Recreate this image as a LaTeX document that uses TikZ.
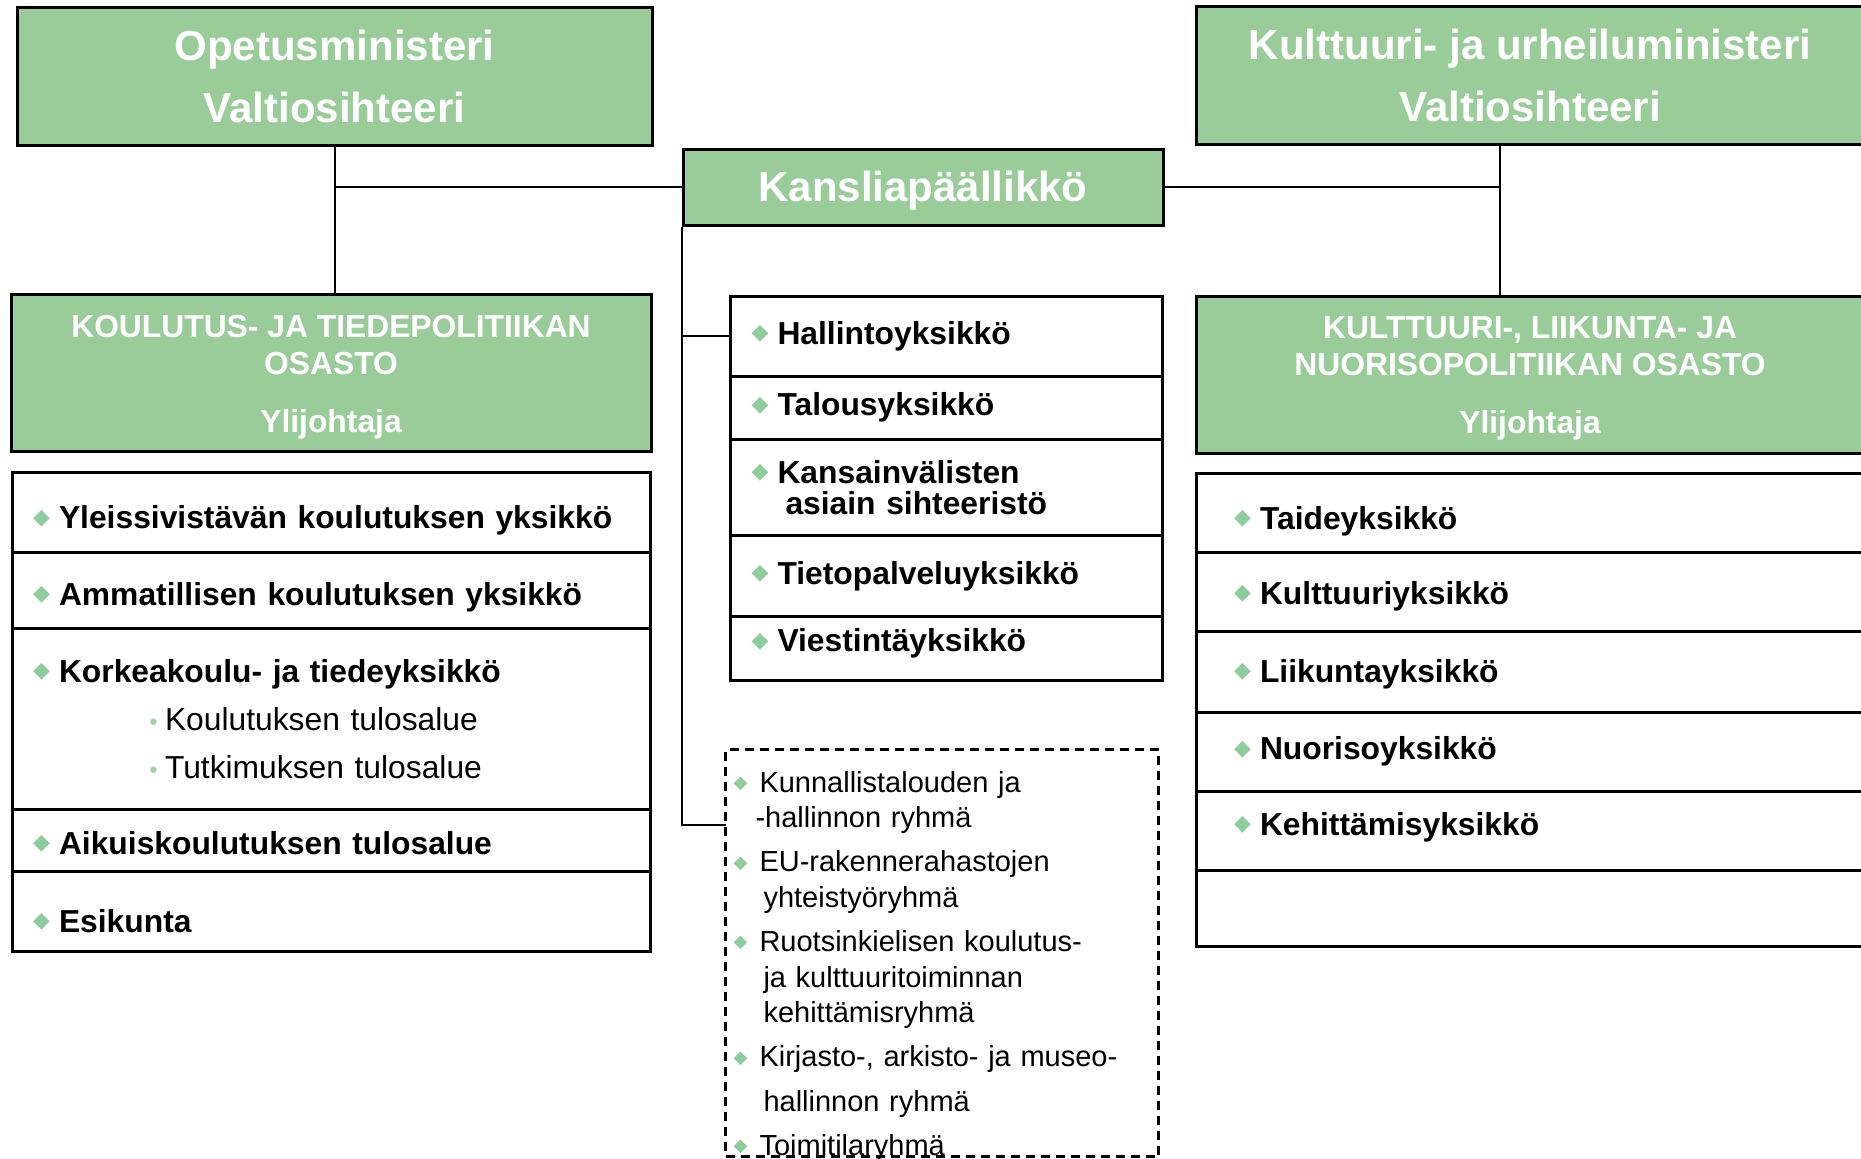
\documentclass[tikz,border=0pt]{standalone}
\usepackage{fontspec}
\setmainfont{Liberation Sans}
\newfontfamily\symfont{DejaVu Sans}
\usetikzlibrary{positioning}

\definecolor{boxgreen}{RGB}{153,204,153}
\definecolor{bulgreen}{RGB}{143,204,155}
\definecolor{dotgreen}{RGB}{160,210,165}

\newcommand{\bul}[2][11]{\makebox[13pt][l]{\raisebox{#2}{\symfont\fontsize{#1}{#1}\selectfont\color{bulgreen}◆}}}
\newcommand{\subbul}{\makebox[9pt][l]{\symfont\fontsize{11}{11}\selectfont\color{dotgreen}•}}

\tikzset{
	greenbox/.style={draw, fill=boxgreen, line width=1.5pt, text=white, align=center, inner sep=0pt},
	chief/.style={greenbox, font=\fontsize{21}{31}\bfseries\selectfont},
	dept/.style={greenbox, font=\fontsize{15.9}{18.5}\bfseries\selectfont},
	unit/.style={draw, line width=1.5pt, outer sep=0pt, align=left, inner ysep=0pt, font=\fontsize{15.9}{19}\bfseries\selectfont},
	lrow/.style={unit, text width=298pt, inner xsep=10.5pt, minimum height=#1, text height=16.4pt, text depth=0pt},
	crow/.style={unit, text width=195pt, inner xsep=10.5pt, minimum height=#1, font=\fontsize{15.9}{15.5}\bfseries\selectfont},
	rrow/.style={unit, text width=296pt, inner xsep=19pt, minimum height=#1, text height=16.4pt, text depth=0pt},
	grp/.style={draw, line width=1.3pt, outer sep=0pt, dash pattern=on 4.5pt off 3pt, align=left, text width=208.5pt, inner xsep=4pt, inner ysep=0pt, text height=21.25pt, text depth=182.25pt, font=\fontsize{14.5}{17.7}\selectfont},
	link/.style={line width=1pt}
}

\begin{document}
\begin{tikzpicture}[x=0.5pt, y=-0.5pt]
	\useasboundingbox (0,0) rectangle (1861,1158);
	\clip (0,0) rectangle (1861,1158);

	\node[chief, minimum width=317.5pt, minimum height=69pt] (opm) at (334.5,76) {Opetusministeri\\Valtiosihteeri};
	\node[chief, minimum width=334pt, minimum height=69pt] (kum) at (1530,75) {Kulttuuri- ja urheiluministeri\\Valtiosihteeri};
	\node[chief, minimum width=240pt, minimum height=38pt] (kp) at (923,187) {\rule{0pt}{19.25pt}Kansliapäällikkö};
	\coordinate (kj) at ([xshift=-15pt]kum.south);

	\node[dept, minimum width=320pt, minimum height=78.5pt] (kto) at (331,372.5) {\rule{0pt}{15.6pt}KOULUTUS- JA TIEDEPOLITIIKAN\\OSASTO\\[10.5pt]Ylijohtaja};
	\node[dept, minimum width=334pt, minimum height=78.5pt] (klno) at (1530,374.5) {\rule{0pt}{15pt}KULTTUURI-, LIIKUNTA- JA\\NUORISOPOLITIIKAN OSASTO\\[10.5pt]Ylijohtaja};

	\draw[link] (opm.south) -- (opm.south |- kto.north);
	\draw[link] (kp.west) -- (kp.west -| opm.south);
	\draw[link] (kp.east) -- (kp.east -| kj);
	\draw[link] (kj) -- (kj |- klno.north);

	\node[lrow=40pt, below=10pt of kto] (yle) {\bul{2.3pt}Yleissivistävän koulutuksen yksikkö};
	\node[lrow=37.75pt, below=0pt of yle, text height=15.2pt] (amm) {\bul{2.3pt}Ammatillisen koulutuksen yksikkö};
	\node[lrow=90.75pt, below=0pt of amm, text height={}, text depth={}] (kor) {\bul{2.3pt}Korkeakoulu- ja tiedeyksikkö\\[5pt]{\mdseries\hspace*{57pt}\subbul Koulutuksen tulosalue}\\[5pt]{\mdseries\hspace*{57pt}\subbul Tutkimuksen tulosalue}};
	\node[lrow=30.75pt, below=0pt of kor, text height=14pt] (aik) {\bul{2.3pt}Aikuiskoulutuksen tulosalue};
	\node[lrow=40.25pt, below=0pt of aik, text height=21.1pt] (esi) {\bul{2.3pt}Esikunta};

	\node[crow=39.75pt, below right=35pt and 24.5pt of kp.south west] (hal) {\bul{2.3pt}Hallintoyksikkö};
	\node[crow=31.75pt, below=0pt of hal] (tal) {\bul{2.3pt}Talousyksikkö};
	\node[crow=48.15pt, below=0pt of tal] (kvs) {\bul{2.3pt}Kansainvälisten\\\hspace*{17pt}asiain sihteeristö};
	\node[crow=40.15pt, below=0pt of kvs] (tie) {\bul{2.3pt}Tietopalveluyksikkö};
	\node[crow=31.95pt, below=0pt of tie, text height=3.8pt, text depth=0pt] (vie) {\bul{2.3pt}Viestintäyksikkö};

	\node[grp, below right=34.75pt and -2.5pt of vie.south west] (ryh) {\bul[9]{1.9pt}Kunnallistalouden ja\\
		\hspace*{11pt}-hallinnon ryhmä\\[4.5pt]
		\bul[9]{1.9pt}EU-rakennerahastojen\\
		\hspace*{15pt}yhteistyöryhmä\\[4.5pt]
		\bul[9]{1.9pt}Ruotsinkielisen koulutus-\\
		\hspace*{15pt}ja kulttuuritoiminnan\\
		\hspace*{15pt}kehittämisryhmä\\[4.5pt]
		\bul[9]{1.9pt}Kirjasto-, arkisto- ja museo-\\[4.5pt]
		\hspace*{15pt}hallinnon ryhmä\\[4.5pt]
		\bul[9]{1.9pt}Toimitilaryhmä};

	\draw[link] (hal.west -| kp.south west) -- (hal.west);
	\draw[link] (kp.south west) |- ([yshift=-37.5pt]ryh.north west);

	\node[rrow=39.25pt, below=9.5pt of klno] (tai) {\bul{2.3pt}Taideyksikkö};
	\node[rrow=39.75pt, below=0pt of tai, text height=12.8pt] (kul) {\bul{2.3pt}Kulttuuriyksikkö};
	\node[rrow=40.25pt, below=0pt of kul, text height=10.4pt] (lii) {\bul{2.3pt}Liikuntayksikkö};
	\node[rrow=39.75pt, below=0pt of lii, text height=8.1pt] (nuo) {\bul{2.3pt}Nuorisoyksikkö};
	\node[rrow=39.25pt, below=0pt of nuo, text height=4.5pt] (keh) {\bul{2.3pt}Kehittämisyksikkö};
	\node[rrow=38pt, below=0pt of keh] (tyh) {};
\end{tikzpicture}
\end{document}
